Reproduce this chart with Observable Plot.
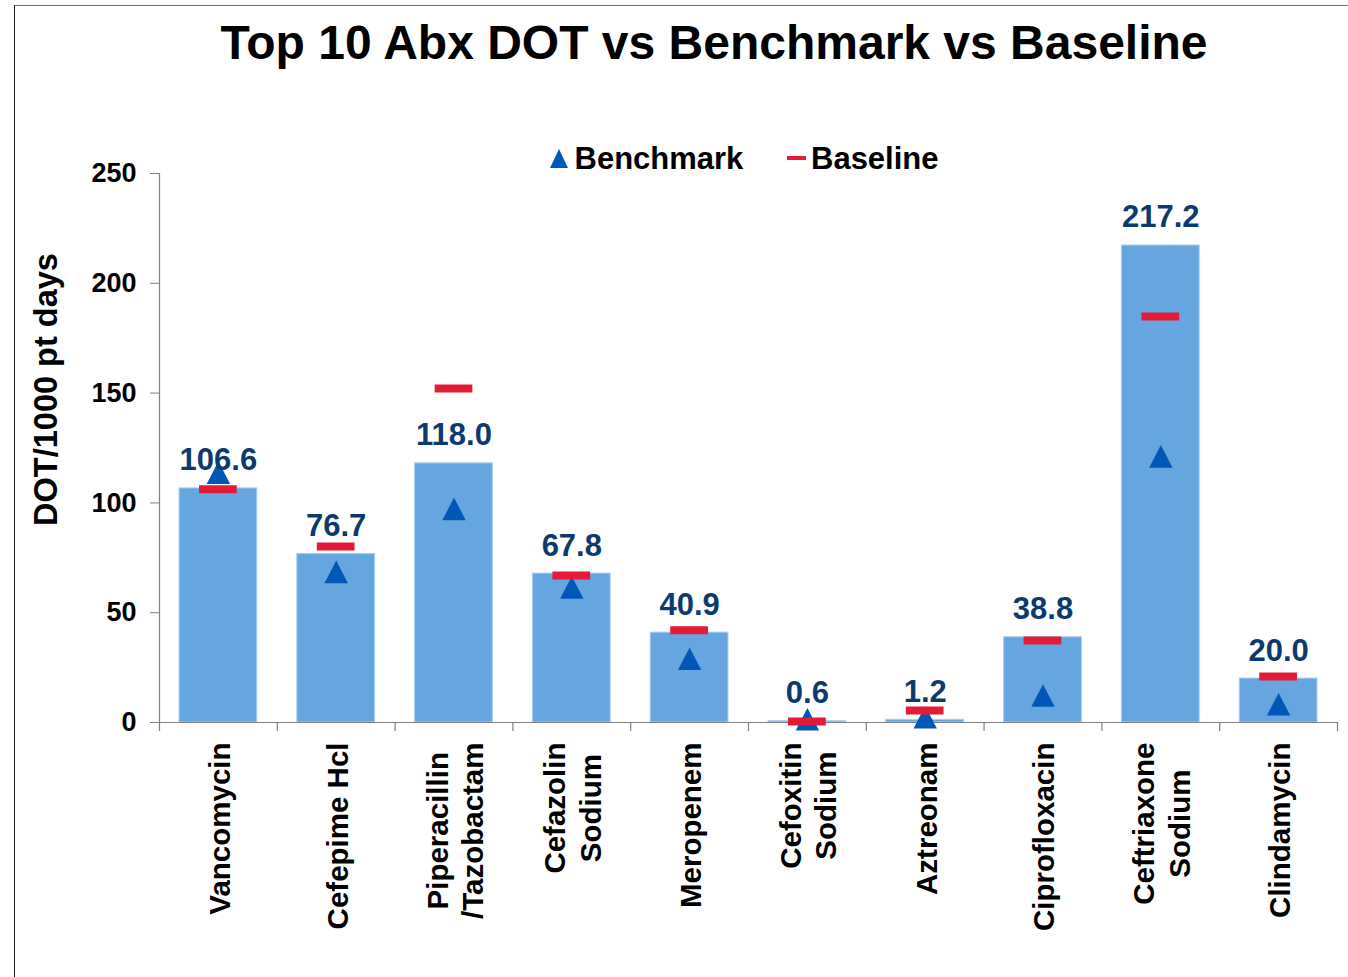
<!DOCTYPE html>
<html><head><meta charset="utf-8">
<script src="https://cdn.jsdelivr.net/npm/d3@7"></script>
<script src="https://cdn.jsdelivr.net/npm/@observablehq/plot@0.6"></script>
<style>
html,body{margin:0;padding:0;background:#fff;}
body{width:1348px;height:977px;position:relative;overflow:hidden;font-family:"Liberation Sans",Arial,sans-serif;}
#frame{position:absolute;left:14px;top:5px;width:1340px;height:980px;border-top:1px solid #6e6e6e;border-left:1.5px solid #1a1a1a;}
#title{position:absolute;left:714px;top:18.7px;transform:translateX(-50%);font-size:48px;line-height:48px;font-weight:bold;white-space:nowrap;color:#000;}
.leg{position:absolute;top:142.8px;font-size:31px;line-height:31px;font-weight:bold;white-space:nowrap;color:#000;}
#chart{position:absolute;left:0;top:120px;}
</style></head><body>
<div id="frame"></div>
<div id="title">Top 10 Abx DOT vs Benchmark vs Baseline</div>
<svg style="position:absolute;left:550px;top:149px" width="18" height="19"><polygon id="legTri" points="9,0 18,19 0,19"/></svg>
<div class="leg" style="left:574.5px">Benchmark</div>
<div id="legDash" style="position:absolute;left:787px;top:156px;width:19px;height:4px;"></div>
<div class="leg" style="left:811px">Baseline</div>
<div id="chart"></div>
<script>
// ---- data ----
const categories = ["Vancomycin","Cefepime Hcl","Piperacillin/Tazobactam","Cefazolin Sodium","Meropenem","Cefoxitin Sodium","Aztreonam","Ciprofloxacin","Ceftriaxone Sodium","Clindamycin"];
const tickLabels = ["Vancomycin","Cefepime Hcl","Piperacillin\n/Tazobactam","Cefazolin\nSodium","Meropenem","Cefoxitin\nSodium","Aztreonam","Ciprofloxacin","Ceftriaxone\nSodium","Clindamycin"];
const dotValues = [106.6, 76.7, 118.0, 67.8, 40.9, 0.6, 1.2, 38.8, 217.2, 20.0];
const benchmark = [113.8, 68.6, 97.3, 61.5, 29.0, 1.5, 2.4, 12.3, 121.2, 8.3];
const baseline  = [106.2, 80.2, 152.1, 66.9, 42.0, 0.5, 5.5, 37.3, 184.9, 20.9];
const yTicks = [0, 50, 100, 150, 200, 250];
const yTitle = "DOT/1000 pt days";

// ---- styles ----
const BAR = "#66a6e0", BAR_EDGE = "#a9cdef", TRI = "#0057b8", RED = "#e31b37", LABEL = "#0d3a6e", AXIS = "#808080";
const FONT = '"Liberation Sans", Arial, sans-serif';
document.getElementById("legTri").setAttribute("fill", TRI);
document.getElementById("legDash").style.background = RED;

const rows = categories.map((name, i) => ({name, label: tickLabels[i], value: dotValues[i], benchmark: benchmark[i], baseline: baseline[i]}));

const W = 1348, H = 857, mL = 159, mR = 11, mT = 53, mB = 255;
const step = (W - mL - mR) / categories.length;
const ctx = document.createElement("canvas").getContext("2d");
const XFS = 29.5;
ctx.font = `bold ${XFS}px ${FONT}`;
const maxW = l => Math.max(...l.split("\n").map(s => ctx.measureText(s).width));

const tri = {draw(c) { const w = 23.4, h = 22.6; c.moveTo(0, -h / 2); c.lineTo(w / 2, h / 2); c.lineTo(-w / 2, h / 2); c.closePath(); }};

const chart = Plot.plot({
  width: W, height: H,
  marginLeft: mL, marginRight: mR, marginTop: mT, marginBottom: mB,
  style: {fontFamily: FONT, fontSize: "27px", fontWeight: "bold", background: "transparent", overflow: "visible"},
  x: {domain: categories, paddingInner: 0.34, paddingOuter: 0.17, round: false, axis: null},
  y: {domain: [0, 250]},
  marks: [
    Plot.barY(rows, {x: "name", y: "value", fill: BAR, stroke: BAR_EDGE, strokeWidth: 1}),
    Plot.ruleY([0], {stroke: AXIS, strokeWidth: 1.2}),
    Plot.ruleX([categories[0]], {y1: 0, y2: 250, dx: -step / 2, stroke: AXIS, strokeWidth: 1.2}),
    Plot.ruleX(categories, {y1: 0, y2: 0, insetBottom: -9, dx: -step / 2, stroke: AXIS, strokeWidth: 1.2}),
    Plot.ruleX([categories[categories.length - 1]], {y1: 0, y2: 0, insetBottom: -9, dx: step / 2, stroke: AXIS, strokeWidth: 1.2}),
    Plot.axisY({ticks: yTicks, tickSize: 9, tickPadding: 14, stroke: AXIS, fill: "#000", fontSize: 27, fontWeight: "bold", label: null}),
    Plot.dot(rows, {x: "name", y: "benchmark", symbol: tri, fill: TRI, stroke: null}),
    Plot.tickY(rows, {x: "name", y: "baseline", stroke: RED, strokeWidth: 8, insetLeft: 20, insetRight: 20}),
    Plot.text(rows, {x: "name", y: "value", text: d => d.value.toFixed(1), dy: -28, fill: LABEL, fontSize: 31, fontWeight: "bold"}),
    ...rows.map(r => Plot.text([r], {x: "name", frameAnchor: "bottom", text: "label", rotate: -90, textAnchor: "middle", lineAnchor: "middle", lineHeight: 1.2, dy: 20 + maxW(r.label) / 2, fontSize: XFS, fontWeight: "bold", fill: "#000"})),
    Plot.text([yTitle], {frameAnchor: "left", text: d => d, rotate: -90, textAnchor: "middle", dx: -112.5, dy: -58.5, fontSize: 32.5, fontWeight: "bold", fill: "#000"})
  ]
});
document.getElementById("chart").appendChild(chart);
</script>
</body></html>
